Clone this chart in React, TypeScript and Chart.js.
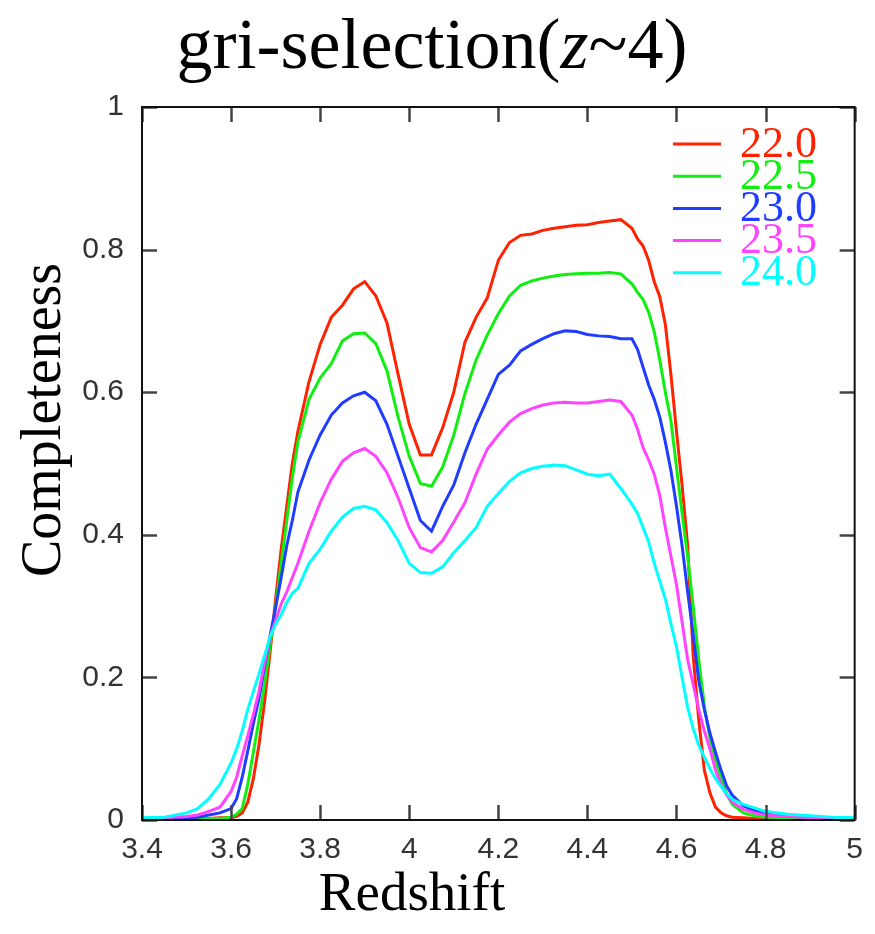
import React, { useEffect, useRef } from "react";
import { Chart, registerables } from "chart.js";

Chart.register(...registerables);

const redshift = [
  3.4, 3.45, 3.5, 3.525, 3.55, 3.575, 3.6, 3.6125, 3.625, 3.6375, 3.65, 3.6625, 3.675, 3.6875, 3.7, 3.7125,
  3.725, 3.7375, 3.75, 3.775, 3.8, 3.825, 3.85, 3.875, 3.9, 3.925, 3.95, 3.975, 4.0, 4.025, 4.05, 4.075,
  4.1, 4.125, 4.15, 4.175, 4.2, 4.225, 4.25, 4.275, 4.3, 4.325, 4.35, 4.375, 4.4, 4.425, 4.45, 4.475,
  4.5, 4.5125, 4.525, 4.5375, 4.55, 4.5625, 4.575, 4.5875, 4.6, 4.6125, 4.625, 4.6375, 4.65, 4.6625,
  4.675, 4.6875, 4.7, 4.7125, 4.725, 4.75, 4.775, 4.8, 4.85, 4.9, 4.95, 5.0,
];

const mag220 = [
  0.002, 0.002, 0.002, 0.002, 0.002, 0.003, 0.003, 0.005, 0.01, 0.025, 0.058, 0.105, 0.165, 0.235, 0.31, 0.38,
  0.44, 0.5, 0.545, 0.615, 0.667, 0.705, 0.722, 0.745, 0.755, 0.735, 0.697, 0.625, 0.555, 0.512, 0.512, 0.55,
  0.6, 0.67, 0.705, 0.732, 0.785, 0.81, 0.82, 0.822, 0.827, 0.83, 0.832, 0.834, 0.835, 0.838, 0.84, 0.842,
  0.83, 0.815, 0.805, 0.785, 0.755, 0.734, 0.695, 0.625, 0.545, 0.47, 0.385, 0.23, 0.14, 0.07,
  0.038, 0.018, 0.01, 0.006, 0.004, 0.003, 0.002, 0.002, 0.002, 0.002, 0.002, 0.002,
];

const mag225 = [
  0.002, 0.002, 0.002, 0.002, 0.002, 0.002, 0.004, 0.008, 0.016, 0.05, 0.095, 0.14, 0.19, 0.245, 0.3, 0.36,
  0.42, 0.48, 0.53, 0.59, 0.62, 0.64, 0.672, 0.682, 0.683, 0.668, 0.63, 0.565, 0.51, 0.472, 0.468, 0.495,
  0.54, 0.598, 0.645, 0.68, 0.71, 0.735, 0.75, 0.756, 0.76, 0.763, 0.765, 0.766, 0.767, 0.767, 0.768, 0.766,
  0.752, 0.74, 0.73, 0.712, 0.685, 0.645, 0.6, 0.56, 0.495, 0.43, 0.37, 0.3, 0.225, 0.16,
  0.115, 0.083, 0.06, 0.037, 0.022, 0.01, 0.006, 0.004, 0.003, 0.002, 0.002, 0.002,
];

const mag230 = [
  0.002, 0.002, 0.003, 0.004, 0.007, 0.01, 0.016, 0.03, 0.06, 0.097, 0.135, 0.17, 0.215, 0.258, 0.298, 0.34,
  0.385, 0.42, 0.46, 0.505, 0.54, 0.568, 0.585, 0.595, 0.6, 0.588, 0.555, 0.51, 0.465, 0.42, 0.405, 0.44,
  0.47, 0.515, 0.555, 0.59, 0.625, 0.638, 0.658, 0.667, 0.675, 0.682, 0.686, 0.685, 0.681, 0.679, 0.678, 0.675,
  0.675, 0.66, 0.635, 0.61, 0.59, 0.565, 0.53, 0.49, 0.44, 0.385, 0.32, 0.26, 0.195, 0.155,
  0.122, 0.095, 0.07, 0.048, 0.035, 0.02, 0.013, 0.01, 0.006, 0.004, 0.003, 0.002,
];

const mag235 = [
  0.002, 0.003, 0.005, 0.007, 0.012, 0.018, 0.04, 0.06, 0.09, 0.118, 0.148, 0.18, 0.22, 0.257, 0.28, 0.303,
  0.32, 0.34, 0.36, 0.405, 0.445, 0.478, 0.503, 0.515, 0.521, 0.51, 0.487, 0.452, 0.41, 0.382, 0.376, 0.392,
  0.418, 0.445, 0.485, 0.52, 0.54, 0.558, 0.57, 0.577, 0.582, 0.585, 0.586, 0.585, 0.585, 0.587, 0.589, 0.587,
  0.568, 0.548, 0.522, 0.505, 0.485, 0.455, 0.41, 0.37, 0.33, 0.278, 0.225, 0.19, 0.155, 0.125,
  0.1, 0.07, 0.05, 0.035, 0.025, 0.015, 0.01, 0.007, 0.005, 0.003, 0.002, 0.002,
];

const mag240 = [
  0.003, 0.004, 0.01, 0.016, 0.03, 0.05, 0.08, 0.1, 0.125, 0.155, 0.18, 0.205, 0.23, 0.257, 0.275, 0.288,
  0.305, 0.318, 0.325, 0.36, 0.38, 0.405, 0.425, 0.437, 0.44, 0.435, 0.417, 0.392, 0.36, 0.347, 0.346, 0.355,
  0.375, 0.392, 0.41, 0.44, 0.458, 0.475, 0.487, 0.493, 0.496, 0.498, 0.497, 0.491, 0.485, 0.483, 0.485, 0.465,
  0.443, 0.43, 0.41, 0.39, 0.36, 0.335, 0.31, 0.275, 0.243, 0.2, 0.158, 0.128, 0.105, 0.088,
  0.072, 0.058, 0.047, 0.037, 0.029, 0.022, 0.017, 0.012, 0.008, 0.006, 0.004, 0.003,
];

const seriesLabels = ["22.0", "22.5", "23.0", "23.5", "24.0"];
const seriesValues = [mag220, mag225, mag230, mag235, mag240];
const seriesColors = ["#ff2200", "#11ee11", "#1f3cff", "#ff44ff", "#00ffff"];

const xTicks = [3.4, 3.6, 3.8, 4.0, 4.2, 4.4, 4.6, 4.8, 5.0];
const yTicks = [0, 0.2, 0.4, 0.6, 0.8, 1];

const titleText = ["gri-selection(", "z", "~4)"];
const xTitle = "Redshift";
const yTitle = "Completeness";

const SERIF = "'Liberation Serif', 'Times New Roman', serif";

const framePlugin = {
  id: "frameDecor",
  afterDraw(chart: any) {
    const { ctx, chartArea: a, scales } = chart;
    const xs = scales.x;
    const ys = scales.y;
    ctx.save();
    // inward ticks on all four sides
    ctx.strokeStyle = "#444";
    ctx.lineWidth = 2.5;
    const tl = 15;
    ctx.beginPath();
    xTicks.forEach((v) => {
      const px = Math.round(xs.getPixelForValue(v)) + 0.5;
      ctx.moveTo(px, a.bottom);
      ctx.lineTo(px, a.bottom - tl);
      ctx.moveTo(px, a.top);
      ctx.lineTo(px, a.top + tl);
    });
    yTicks.forEach((v) => {
      const py = Math.round(ys.getPixelForValue(v)) + 0.5;
      ctx.moveTo(a.left, py);
      ctx.lineTo(a.left + tl, py);
      ctx.moveTo(a.right, py);
      ctx.lineTo(a.right - tl, py);
    });
    ctx.stroke();
    // frame
    ctx.strokeStyle = "#111";
    ctx.lineWidth = 2;
    ctx.strokeRect(a.left, a.top, a.right - a.left, a.bottom - a.top);

    // legend inside plot (top right)
    ctx.lineWidth = 3;
    ctx.font = `44px ${SERIF}`;
    ctx.textAlign = "left";
    ctx.textBaseline = "middle";
    chart.data.datasets.forEach((ds: any, i: number) => {
      const y = 144 + i * 32.2;
      ctx.strokeStyle = ds.borderColor;
      ctx.beginPath();
      ctx.moveTo(673, y);
      ctx.lineTo(721, y);
      ctx.stroke();
      ctx.fillStyle = ds.borderColor;
      ctx.fillText(ds.label, 740, y + 1);
    });

    // main title with italic z
    ctx.fillStyle = "#000";
    ctx.textBaseline = "alphabetic";
    const fonts = [`72px ${SERIF}`, `italic 72px ${SERIF}`, `72px ${SERIF}`];
    let total = 0;
    const widths = titleText.map((t, i) => {
      ctx.font = fonts[i];
      const w = ctx.measureText(t).width;
      total += w;
      return w;
    });
    let x = 432 - total / 2;
    titleText.forEach((t, i) => {
      ctx.font = fonts[i];
      ctx.fillText(t, x, 68);
      x += widths[i];
    });

    // x axis title
    ctx.font = `55px ${SERIF}`;
    ctx.textAlign = "center";
    ctx.fillText(xTitle, 412, 910);

    // y axis title
    ctx.translate(60, 420);
    ctx.rotate(-Math.PI / 2);
    ctx.font = `56px ${SERIF}`;
    ctx.fillText(yTitle, 0, 0);
    ctx.restore();
  },
};

export default function App() {
  const ref = useRef<HTMLCanvasElement | null>(null);
  useEffect(() => {
    if (!ref.current) return;
    const chart = new Chart(ref.current, {
      type: "line",
      data: {
        datasets: seriesLabels.map((label, i) => ({
          label,
          data: redshift.map((z, j) => ({ x: z, y: seriesValues[i][j] })),
          borderColor: seriesColors[i],
          backgroundColor: seriesColors[i],
          borderWidth: 3,
          pointRadius: 0,
          tension: 0,
          fill: false,
          order: seriesLabels.length - i,
        })),
      },
      options: {
        animation: false,
        responsive: false,
        devicePixelRatio: 1,
        layout: { padding: { left: 0, top: 107, right: 20, bottom: 0 } },
        plugins: { legend: { display: false }, title: { display: false }, tooltip: { enabled: false } },
        scales: {
          x: {
            type: "linear",
            min: 3.4,
            max: 5.0,
            grid: { display: false, drawTicks: false },
            border: { display: false },
            afterBuildTicks: (s: any) => {
              s.ticks = xTicks.map((v) => ({ value: v }));
            },
            afterFit: (s: any) => {
              s.height = 114;
            },
            ticks: {
              padding: 12,
              color: "#333",
              font: { family: "'Liberation Sans', Arial, sans-serif", size: 30 },
              maxRotation: 0,
              autoSkip: false,
              callback: (v: any) => String(Math.round(Number(v) * 10) / 10),
            },
          },
          y: {
            type: "linear",
            min: 0,
            max: 1,
            grid: { display: false, drawTicks: false },
            border: { display: false },
            afterBuildTicks: (s: any) => {
              s.ticks = yTicks.map((v) => ({ value: v }));
            },
            afterFit: (s: any) => {
              s.width = 142;
            },
            ticks: {
              padding: 18,
              color: "#333",
              font: { family: "'Liberation Sans', Arial, sans-serif", size: 30 },
              callback: (v: any) => String(Math.round(Number(v) * 10) / 10),
            },
          },
        },
      },
      plugins: [framePlugin],
    });
    return () => chart.destroy();
  }, []);
  return (
    <div style={{ position: "fixed", left: 0, top: 0, width: 875, height: 934, background: "#fff" }}>
      <canvas ref={ref} width={875} height={934} style={{ width: 875, height: 934, display: "block" }} />
    </div>
  );
}
